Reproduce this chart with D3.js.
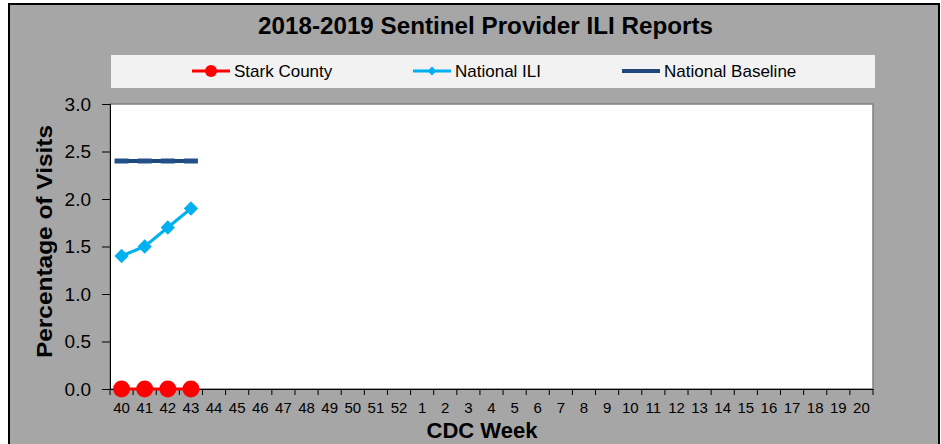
<!DOCTYPE html>
<html><head><meta charset="utf-8">
<script src="https://cdn.jsdelivr.net/npm/d3@7"></script>
<style>body{margin:0;background:#fff;} text{font-family:"Liberation Sans",Arial,sans-serif;}</style>
</head><body><svg id="c" width="941" height="444"></svg>
<script>
const weeks = ["40","41","42","43","44","45","46","47","48","49","50","51","52","1","2","3","4","5","6","7","8","9","10","11","12","13","14","15","16","17","18","19","20"];
const starkWeeks = ["40","41","42","43"];
const starkCounty = [0,0,0,0];
const nationalILI = [1.4,1.5,1.7,1.9];
const nationalBaseline = [2.4,2.4,2.4,2.4];
const yTicks = [0,0.5,1.0,1.5,2.0,2.5,3.0];
const title = "2018-2019 Sentinel Provider ILI Reports";
const legendNames = ["Stark County","National ILI","National Baseline"];
const colors = {stark:"#ff0000", ili:"#00b0f0", base:"#1f497d"};

const svg = d3.select("#c");
svg.append("rect").attr("x",9).attr("y",4).attr("width",930).attr("height",460)
  .attr("fill","#a6a6a6").attr("stroke","#000").attr("stroke-width",2);

const m = {l:110, r:873, t:104, b:389};
const x = d3.scaleBand().domain(weeks).range([m.l,m.r]);
const y = d3.scaleLinear().domain([0,3]).range([m.b,m.t]);

// title
svg.append("text").attr("x",485.5).attr("y",34).attr("text-anchor","middle")
  .attr("font-size",23).attr("font-weight","bold")
  .attr("textLength",455).attr("lengthAdjust","spacingAndGlyphs").text(title);

// legend
svg.append("rect").attr("x",111).attr("y",55).attr("width",764).attr("height",33).attr("fill","#f2f2f2");
const legX = [192,413,622];
const lg = svg.append("g");
legendNames.forEach((n,i)=>{
  const g = lg.append("g").attr("transform",`translate(${legX[i]},71)`);
  const c = [colors.stark,colors.ili,colors.base][i];
  g.append("line").attr("x1",0).attr("x2",38).attr("stroke",c).attr("stroke-width",i==2?4:3);
  if(i==0) g.append("circle").attr("cx",19).attr("r",6).attr("fill",c);
  if(i==1) g.append("path").attr("d",d3.symbol(d3.symbolDiamond2,50)()).attr("transform","translate(19,0)").attr("fill",c);
  g.append("text").attr("x",42).attr("y",6).attr("font-size",17).text(n);
});

// plot area
svg.append("rect").attr("x",m.l).attr("y",m.t).attr("width",m.r-m.l).attr("height",m.b-m.t)
  .attr("fill","#fff").attr("stroke","#808080").attr("stroke-width",1.5);

// axes
const ya = svg.append("g").attr("transform",`translate(${m.l},0)`)
  .call(d3.axisLeft(y).tickValues(yTicks).tickFormat(d3.format(".1f")).tickSize(8).tickPadding(11));
ya.select(".domain").attr("stroke","#000");
ya.selectAll("text").attr("font-size",19).attr("fill","#000").attr("font-family","Liberation Sans, Arial, sans-serif");
const xa = svg.append("g").attr("transform",`translate(0,${m.b})`)
  .call(d3.axisBottom(x).tickSize(0).tickPadding(13));
xa.select(".domain").attr("stroke","#000");
xa.selectAll("text").attr("font-size",15).attr("fill","#000").attr("font-family","Liberation Sans, Arial, sans-serif");
// tick marks at category boundaries
const bounds = weeks.map(w=>x(w)).concat([m.r]);
svg.append("g").selectAll("line").data(bounds).join("line")
  .attr("x1",d=>d).attr("x2",d=>d).attr("y1",m.b).attr("y2",m.b+6).attr("stroke","#000");

// axis labels
svg.append("text").attr("transform",`translate(52,241.5) rotate(-90)`).attr("text-anchor","middle")
  .attr("font-size",22).attr("font-weight","bold")
  .attr("textLength",233).attr("lengthAdjust","spacingAndGlyphs").text("Percentage of Visits");
svg.append("text").attr("x",482).attr("y",438).attr("text-anchor","middle")
  .attr("font-size",22).attr("font-weight","bold").text("CDC Week");

const cx = d=>x(d)+x.bandwidth()/2;
const line = d3.line().x(d=>cx(d[0])).y(d=>y(d[1]));

// baseline
const bData = starkWeeks.map((w,i)=>[w,nationalBaseline[i]]);
svg.append("path").attr("d",line(bData)).attr("fill","none").attr("stroke",colors.base).attr("stroke-width",4);
svg.append("g").selectAll("rect").data(bData).join("rect")
  .attr("x",d=>cx(d[0])-7).attr("y",d=>y(d[1])-2.5).attr("width",14).attr("height",5).attr("fill","#24508a");

// ILI
const iData = starkWeeks.map((w,i)=>[w,nationalILI[i]]);
svg.append("path").attr("d",line(iData)).attr("fill","none").attr("stroke",colors.ili).attr("stroke-width",3);
svg.append("g").selectAll("path").data(iData).join("path")
  .attr("d",d3.symbol(d3.symbolDiamond2,130)()).attr("transform",d=>`translate(${cx(d[0])},${y(d[1])})`).attr("fill",colors.ili);

// Stark
const sData = starkWeeks.map((w,i)=>[w,starkCounty[i]]);
svg.append("path").attr("d",line(sData)).attr("fill","none").attr("stroke",colors.stark).attr("stroke-width",3);
svg.append("g").selectAll("circle").data(sData).join("circle")
  .attr("cx",d=>cx(d[0])).attr("cy",d=>y(d[1])).attr("r",8.5).attr("fill",colors.stark);
</script></body></html>
